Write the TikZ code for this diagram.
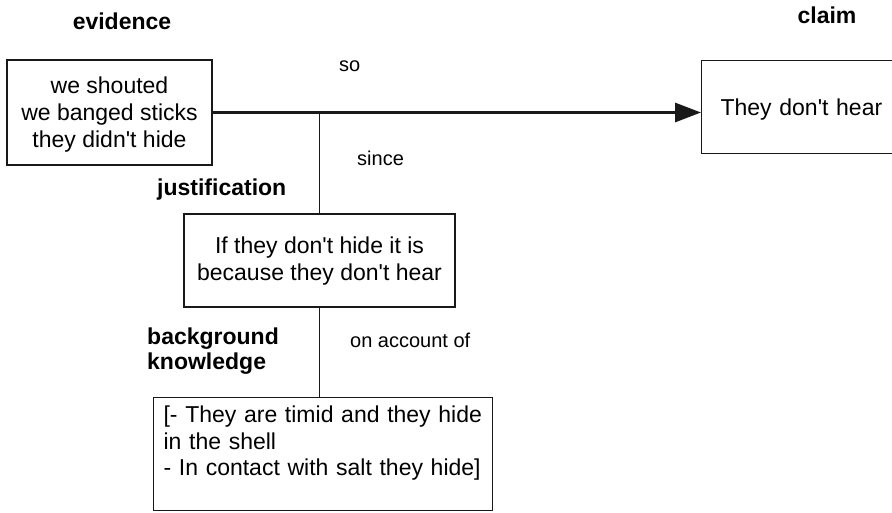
\documentclass[tikz,border=0pt]{standalone}
\usepackage{fontspec}
\setmainfont{Liberation Sans}[Ligatures=TeXOff]
\usetikzlibrary{arrows.meta}
\begin{document}
\begin{tikzpicture}[x=1pt,y=-1pt,
  box/.style={draw=black!90, line width=1.2pt, inner sep=0pt, align=center,
    font=\fontsize{23}{27}\selectfont},
  lab/.style={font=\fontsize{23}{25}\selectfont\bfseries, inner sep=0pt},
  rel/.style={font=\fontsize{20}{24}\selectfont, inner sep=0pt, anchor=base west},
  link/.style={line width=1.5pt, draw=black!90},
  mainarrow/.style={line width=3pt, draw=black!90, -{Triangle[length=26pt,width=19pt]}},
  ]
\clip (0,0) rectangle (892,512);
% boxes
\node[box, minimum width=205pt, minimum height=105pt, text height=71pt, text depth=2pt] (ev) at (109.5,112.5)
  {we shouted\\we banged sticks\\they didn't hide};
\node[box, anchor=north west, minimum width=210pt, minimum height=93pt,
  text width=180pt, inner xsep=19pt, align=left, text height=22pt, text depth=5pt] (cl) at (701,60)
  {They don't hear};
\node[box, minimum width=271pt, minimum height=93pt, text height=44pt, text depth=5pt] (ju) at (319.5,260.5)
  {If they don't hide it is\\because they don't hear};
\node[box, anchor=north west, text width=319pt, align=left, inner xsep=10pt, inner ysep=8pt,
  text height=17pt, text depth=80pt, font=\fontsize{23}{26.5}\selectfont] (bg) at (153,397)
  {[- They are timid and they hide\\in the shell\\- In contact with salt they hide]};
% labels
\node[lab, anchor=base] (levi) at (122,29) {evidence};
\node[lab, anchor=base] (lcla) at (827,23) {claim};
\node[lab, anchor=base west] (ljus) at (157,195) {justification};
\node[lab, anchor=north west, align=left] (lbac) at (147,328) {background\\knowledge};
\node[rel] (rso) at (339,71) {so};
\node[rel] (rsince) at (357,165) {since};
\node[rel] (racc) at (350,347) {on account of};
% connectors
\draw[mainarrow] (ev.east) -- (cl.west |- ev.east);
\draw[link] (ju.north) -- (ju.north |- ev.east);
\draw[link] (ju.south) -- (ju.south |- bg.north);
\end{tikzpicture}
\end{document}
